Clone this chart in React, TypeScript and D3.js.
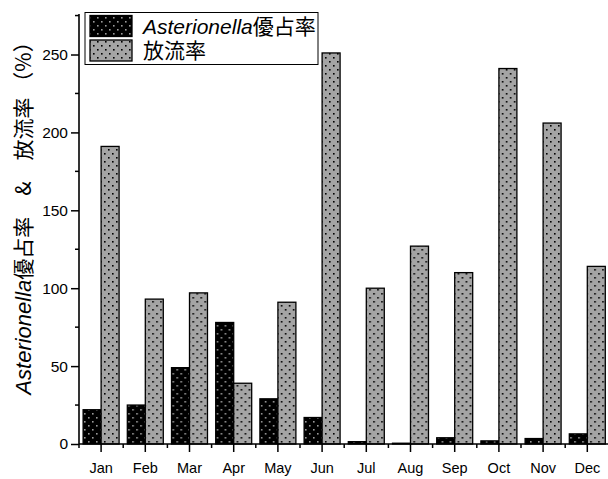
import { useEffect, useRef } from "react";
import * as d3 from "d3";

// ─── Data ────────────────────────────────────────────────────────────────────
const months = ["Jan", "Feb", "Mar", "Apr", "May", "Jun", "Jul", "Aug", "Sep", "Oct", "Nov", "Dec"];
const asterionella = [22, 25, 49, 78, 29, 17, 1.5, 0.5, 4, 2, 3.5, 6.5];
const discharge = [191, 93, 97, 39, 91, 251, 100, 127, 110, 241, 206, 114];
const yTicks = [0, 50, 100, 150, 200, 250];
const yMinor = [25, 75, 125, 175, 225, 275];
const seriesKeys = ["ast", "dis"];

const W = 608;
const H = 479;
const FONT = "'Liberation Sans', Arial, sans-serif";
const JP = "'Noto Sans CJK JP', 'Liberation Sans', sans-serif";

export default function App() {
  const svgRef = useRef<SVGSVGElement>(null);

  useEffect(() => {
    if (!svgRef.current) return;
    const svg = d3.select(svgRef.current);
    svg.selectAll("*").remove();

    const left = 79;
    const bottom = 444;
    const top = 14;
    const right = left + 12 * 44.2;

    // ── Patterns ───────────────────────────────────────────────────────────
    const defs = svg.append("defs");
    const mkPattern = (id: string, bg: string, dot: string) => {
      const p = defs
        .append("pattern")
        .attr("id", id)
        .attr("patternUnits", "userSpaceOnUse")
        .attr("width", 8)
        .attr("height", 8);
      p.append("rect").attr("width", 8).attr("height", 8).attr("fill", bg);
      p.append("rect").attr("x", 1).attr("y", 1).attr("width", 1.6).attr("height", 1.6).attr("fill", dot);
      p.append("rect").attr("x", 5).attr("y", 5).attr("width", 1.6).attr("height", 1.6).attr("fill", dot);
    };
    mkPattern("patBlack", "#000", "#9a9a9a");
    mkPattern("patGray", "#a4a4a4", "#000");
    const fills: Record<string, string> = { ast: "url(#patBlack)", dis: "url(#patGray)" };

    // ── Scales ─────────────────────────────────────────────────────────────
    const x = d3.scaleBand<string>().domain(months).range([left, right]).padding(0);
    const bw = x.bandwidth();
    const x1 = d3.scaleBand<string>().domain(seriesKeys).range([bw * 0.093, bw * 0.907]).padding(0);
    const y = d3.scaleLinear().domain([0, 276]).range([bottom, top]);

    // ── Bars ───────────────────────────────────────────────────────────────
    const rows = months.map((m, i) => ({ m, ast: asterionella[i], dis: discharge[i] }));
    const groups = svg
      .append("g")
      .selectAll("g")
      .data(rows)
      .enter()
      .append("g")
      .attr("transform", (d) => `translate(${x(d.m)},0)`);
    groups
      .selectAll("rect")
      .data((d) => seriesKeys.map((k) => ({ k, v: (d as any)[k] as number })))
      .enter()
      .append("rect")
      .attr("x", (d) => x1(d.k)!)
      .attr("y", (d) => y(d.v))
      .attr("width", x1.bandwidth())
      .attr("height", (d) => bottom - y(d.v))
      .attr("fill", (d) => fills[d.k])
      .attr("stroke", "#000")
      .attr("stroke-width", 1.3);

    // ── Y axis ─────────────────────────────────────────────────────────────
    const yAxis = svg
      .append("g")
      .attr("transform", `translate(${left},0)`)
      .call(d3.axisLeft(y).tickValues(yTicks).tickSize(8).tickPadding(3).tickSizeOuter(0));
    yAxis.select(".domain").remove();
    yAxis.selectAll("line").attr("stroke", "#000").attr("stroke-width", 1.5);
    yAxis.selectAll("text").attr("font-family", FONT).attr("font-size", 15.5).attr("fill", "#000");
    svg
      .append("g")
      .selectAll("line")
      .data(yMinor)
      .enter()
      .append("line")
      .attr("x1", left - 4)
      .attr("x2", left)
      .attr("y1", (d) => y(d))
      .attr("y2", (d) => y(d))
      .attr("stroke", "#000")
      .attr("stroke-width", 1.5);
    svg
      .append("line")
      .attr("x1", left)
      .attr("x2", left)
      .attr("y1", top)
      .attr("y2", bottom)
      .attr("stroke", "#000")
      .attr("stroke-width", 1.6);

    // ── X axis ─────────────────────────────────────────────────────────────
    const xAxis = svg
      .append("g")
      .attr("transform", `translate(0,${bottom})`)
      .call(d3.axisBottom(x).tickSize(8).tickPadding(11).tickSizeOuter(0));
    xAxis.select(".domain").remove();
    xAxis.selectAll("line").attr("stroke", "#000").attr("stroke-width", 1.5);
    xAxis.selectAll("text").attr("font-family", FONT).attr("font-size", 14.5).attr("fill", "#000");
    svg
      .append("g")
      .selectAll("line")
      .data(months)
      .enter()
      .append("line")
      .attr("x1", (d) => x(d)!)
      .attr("x2", (d) => x(d)!)
      .attr("y1", bottom)
      .attr("y2", bottom + 4)
      .attr("stroke", "#000")
      .attr("stroke-width", 1.5);
    svg
      .append("line")
      .attr("x1", left)
      .attr("x2", right)
      .attr("y1", bottom)
      .attr("y2", bottom)
      .attr("stroke", "#000")
      .attr("stroke-width", 1.6);

    // ── Y title ────────────────────────────────────────────────────────────
    const yt = svg
      .append("text")
      .attr("transform", `translate(31,213) rotate(-90)`)
      .attr("text-anchor", "middle")
      .attr("font-family", JP)
      .attr("font-size", 21)
      .attr("fill", "#000");
    yt.append("tspan").attr("font-family", FONT).attr("font-style", "italic").attr("font-size", 22).text("Asterionella");
    yt.append("tspan").text("優占率　&　放流率 （%）");

    // ── Legend ─────────────────────────────────────────────────────────────
    const lg = svg.append("g");
    lg.append("rect")
      .attr("x", 85)
      .attr("y", 12.5)
      .attr("width", 233)
      .attr("height", 52)
      .attr("fill", "#fff")
      .attr("stroke", "#000")
      .attr("stroke-width", 1);
    const legendItems = [
      { k: "ast", label: "優占率", italic: "Asterionella" },
      { k: "dis", label: "放流率", italic: "" },
    ];
    legendItems.forEach((it, i) => {
      const yy = 15.5 + i * 24.5;
      lg.append("rect")
        .attr("x", 90)
        .attr("y", yy)
        .attr("width", 42)
        .attr("height", 21)
        .attr("fill", fills[it.k])
        .attr("stroke", "#000")
        .attr("stroke-width", 1.3);
      const t = lg
        .append("text")
        .attr("x", 143)
        .attr("y", yy + 18)
        .attr("font-family", JP)
        .attr("font-size", 21)
        .attr("fill", "#000");
      if (it.italic) {
        t.append("tspan").attr("font-family", FONT).attr("font-style", "italic").text(it.italic);
      }
      t.append("tspan").text(it.label);
    });
  }, []);

  return (
    <svg
      ref={svgRef}
      width={W}
      height={H}
      viewBox={`0 0 ${W} ${H}`}
      style={{ position: "absolute", left: 0, top: 0, background: "#fff" }}
    />
  );
}
